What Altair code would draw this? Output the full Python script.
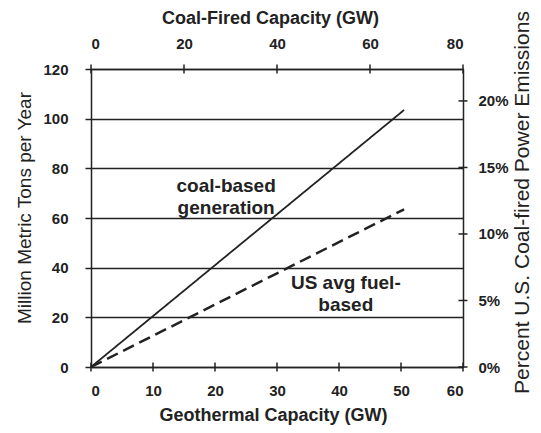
import altair as alt
import pandas as pd

# ---- data ----
series_names = ["coal-based generation", "US avg fuel-based"]
geo_points = [0, 50.5]            # Geothermal capacity (GW)
coal_based = [0, 103.5]           # Million metric tons per year
us_avg_fuel = [0, 63.5]

mt_ticks = [0, 20, 40, 60, 80, 100, 120]
geo_ticks = [0, 10, 20, 30, 40, 50, 60]
coal_ticks = [0, 20, 40, 60, 80]
pct_ticks = [0, 0.05, 0.10, 0.15, 0.20]

label_text = ["coal-based", "generation", "US avg fuel-", "based"]
label_geo = [21.8, 21.8, 41.1, 41.1]
label_mt = [72.9, 64.0, 33.8, 25.0]

GEO_DOMAIN = [0, 60]
MT_DOMAIN = [0, 120]
COAL_DOMAIN = [0, 80]
PCT_DOMAIN = [0, 0.224]

W, H = 372, 298
INK = "#222222"
FONT = "Liberation Sans"

lines_df = pd.DataFrame({
    "geo": geo_points + geo_points,
    "mt": coal_based + us_avg_fuel,
    "series": [series_names[0]] * len(geo_points) + [series_names[1]] * len(geo_points),
})
labels_df = pd.DataFrame({"text": label_text, "geo": label_geo, "mt": label_mt})


def sc(domain):
    return alt.Scale(domain=domain, nice=False, zero=False)


common = dict(
    labelFont=FONT, labelFontSize=15, labelFontWeight="bold", labelColor=INK,
    titleFont=FONT, titleColor=INK, domainColor=INK, domainWidth=1.5,
    titleAlign="center", titleBaseline="middle",
)

lines = alt.Chart(lines_df).mark_line(color=INK).encode(
    x=alt.X("geo:Q", scale=sc(GEO_DOMAIN),
            axis=alt.Axis(orient="bottom", values=geo_ticks, ticks=False, tickSize=0,
                          grid=False, labelPadding=16,
                          title="Geothermal Capacity (GW)", titleFontSize=18,
                          titleFontWeight="bold", titleX=182, titleY=48, **common)),
    y=alt.Y("mt:Q", scale=sc(MT_DOMAIN),
            axis=alt.Axis(orient="left", values=mt_ticks, grid=True, gridColor=INK,
                          gridWidth=1.5, tickColor=INK, tickSize=6, tickWidth=1.5,
                          labelPadding=17,
                          title="Million Metric Tons per Year", titleFontSize=19,
                          titleFontWeight="normal", titleAngle=270,
                          titleX=-67, titleY=138.5, **common)),
    strokeDash=alt.StrokeDash("series:N",
                              scale=alt.Scale(domain=series_names, range=[[1, 0], [12, 6]]),
                              legend=None),
    strokeWidth=alt.StrokeWidth("series:N",
                                scale=alt.Scale(domain=series_names, range=[1.8, 2.5]),
                                legend=None),
    order="geo:Q",
)

bottom_ticks = alt.Chart(pd.DataFrame({"geo": geo_ticks})).mark_tick(
    orient="vertical", size=9, thickness=1.5, color=INK, opacity=1
).encode(
    x=alt.X("geo:Q", scale=sc(GEO_DOMAIN), axis=None),
    y=alt.value(H),
)

top_ticks = alt.Chart(pd.DataFrame({"coal": coal_ticks})).mark_tick(
    orient="vertical", size=9, thickness=1.5, color=INK, opacity=1
).encode(
    x=alt.X("coal:Q", scale=sc(COAL_DOMAIN),
            axis=alt.Axis(orient="top", values=coal_ticks, ticks=False, tickSize=0,
                          grid=False, labelPadding=18,
                          title="Coal-Fired Capacity (GW)", titleFontSize=18,
                          titleFontWeight="bold", titleX=179, titleY=-51, **common)),
    y=alt.value(0),
)

right_ticks = alt.Chart(pd.DataFrame({"pct": pct_ticks})).mark_tick(
    orient="horizontal", size=9, thickness=1.5, color=INK, opacity=1
).encode(
    y=alt.Y("pct:Q", scale=sc(PCT_DOMAIN),
            axis=alt.Axis(orient="right", values=pct_ticks, format=".0%", ticks=False,
                          tickSize=0, grid=False, labelPadding=15,
                          title="Percent U.S. Coal-fired Power Emissions",
                          titleFontSize=21, titleFontWeight="normal", titleAngle=270,
                          titleX=59, titleY=133, **common)),
    x=alt.value(W),
)

texts = alt.Chart(labels_df).mark_text(
    font=FONT, fontSize=19, fontWeight="bold", color=INK, align="center", baseline="middle"
).encode(
    x=alt.X("geo:Q", scale=sc(GEO_DOMAIN), axis=None),
    y=alt.Y("mt:Q", scale=sc(MT_DOMAIN), axis=None),
    text="text:N",
)

chart = alt.layer(lines, bottom_ticks, top_ticks, right_ticks, texts).resolve_scale(
    x="independent", y="independent"
).properties(
    width=W, height=H, autosize="none",
    padding={"left": 83, "top": 61, "right": 70, "bottom": 58},
    background="white",
).configure_view(stroke=None)

chart.save("out.html", embed_options={"renderer": "svg", "actions": False})
